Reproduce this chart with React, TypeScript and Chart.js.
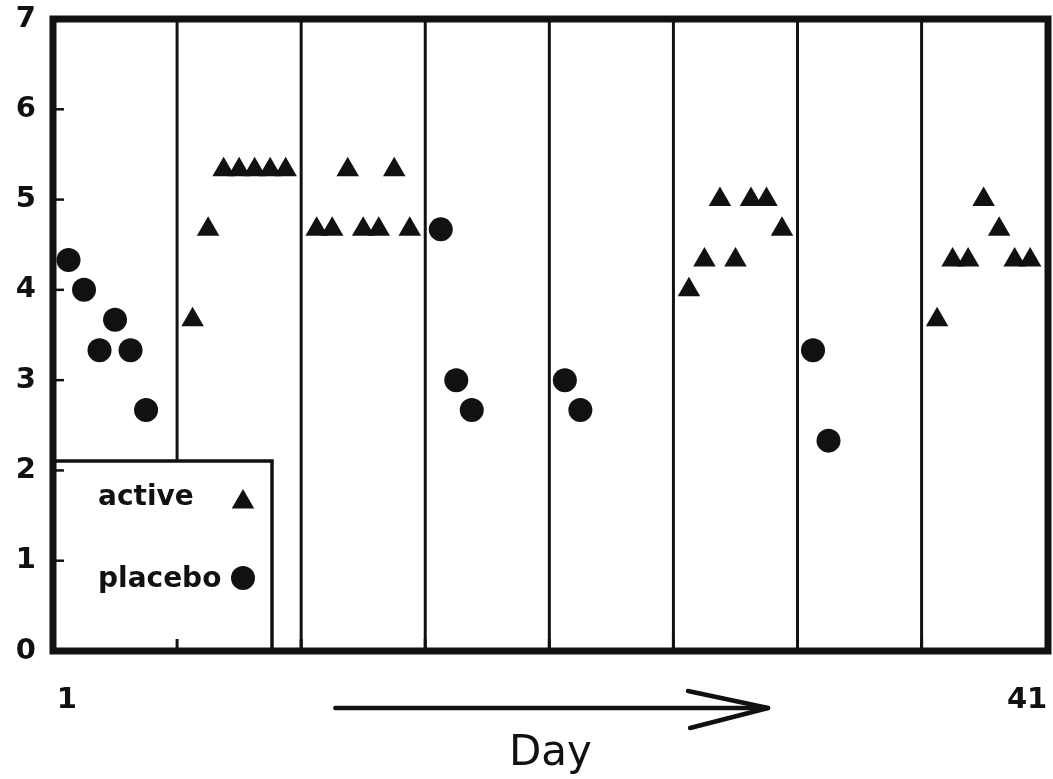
import React, { useEffect, useRef } from 'react';
import { Chart, registerables } from 'chart.js';

Chart.register(...registerables);

// x positions are measurement slots (8 slots per treatment period)
const activeSlots = [9, 10, 11, 12, 13, 14, 15, 17, 18, 19, 20, 21, 22, 23, 41, 42, 43, 44, 45, 46, 47, 57, 58, 59, 60, 61, 62, 63];
const activeValues = [3.67, 4.67, 5.33, 5.33, 5.33, 5.33, 5.33, 4.67, 4.67, 5.33, 4.67, 4.67, 5.33, 4.67, 4.0, 4.33, 5.0, 4.33, 5.0, 5.0, 4.67, 3.67, 4.33, 4.33, 5.0, 4.67, 4.33, 4.33];
const placeboSlots = [1, 2, 3, 4, 5, 6, 25, 26, 27, 33, 34, 49, 50];
const placeboValues = [4.33, 4.0, 3.33, 3.67, 3.33, 2.67, 4.67, 3.0, 2.67, 3.0, 2.67, 3.33, 2.33];
const periodBoundaries = [8, 16, 24, 32, 40, 48, 56];
const dayTickSlots = [0.9, 62.8];
const dayTickLabels = ['1', '41'];
const legendLabels = ['active', 'placebo'];
const xAxisTitle = 'Day';
const arrowFromSlot = 18.2;
const arrowToSlot = 46.1;

const FONT = "'DejaVu Sans', sans-serif";
const INK = '#111';

export default function App() {
  const ref = useRef<HTMLCanvasElement>(null);

  useEffect(() => {
    const canvas = ref.current;
    if (!canvas) return;

    const decor = {
      id: 'decor',
      beforeDatasetsDraw(chart: any) {
        const { ctx, chartArea: a, scales } = chart;
        ctx.save();
        ctx.strokeStyle = INK;
        ctx.lineWidth = 3;
        for (const b of periodBoundaries) {
          const x = scales.x.getPixelForValue(b);
          ctx.beginPath();
          ctx.moveTo(x, a.top);
          ctx.lineTo(x, a.bottom);
          ctx.stroke();
        }
        ctx.restore();
      },
      afterDatasetsDraw(chart: any) {
        const { ctx, chartArea: a, scales } = chart;
        const xs = scales.x;
        const ys = scales.y;
        ctx.save();
        // legend box
        const lx = a.left, ly = a.bottom - 190, lw = 219, lh = 190;
        ctx.fillStyle = '#fff';
        ctx.fillRect(lx, ly, lw, lh);
        ctx.strokeStyle = INK;
        ctx.lineWidth = 3.5;
        ctx.strokeRect(lx, ly, lw, lh);
        ctx.fillStyle = INK;
        ctx.font = `bold 28px ${FONT}`;
        ctx.textAlign = 'left';
        ctx.textBaseline = 'alphabetic';
        ctx.fillText(legendLabels[0], lx + 45, a.bottom - 146);
        ctx.fillText(legendLabels[1], lx + 45, a.bottom - 64);
        // legend markers
        const mx = lx + 190;
        const r = 13;
        const ty = a.bottom - 149;
        ctx.beginPath();
        ctx.moveTo(mx, ty - r);
        ctx.lineTo(mx + r * Math.sin(2 * Math.PI / 3), ty + r * 0.5);
        ctx.lineTo(mx - r * Math.sin(2 * Math.PI / 3), ty + r * 0.5);
        ctx.closePath();
        ctx.fill();
        ctx.beginPath();
        ctx.arc(mx, a.bottom - 73, 12, 0, Math.PI * 2);
        ctx.fill();
        // day tick labels under the axis
        ctx.font = `bold 29px ${FONT}`;
        ctx.textAlign = 'center';
        ctx.textBaseline = 'middle';
        dayTickSlots.forEach((s, i) => {
          ctx.fillText(dayTickLabels[i], xs.getPixelForValue(s), a.bottom + 49);
        });
        // inward ticks on y axis
        ctx.lineWidth = 2.5;
        for (let v = 1; v <= 6; v++) {
          const y = ys.getPixelForValue(v);
          ctx.beginPath();
          ctx.moveTo(a.left, y);
          ctx.lineTo(a.left + 11, y);
          ctx.stroke();
        }
        // inward ticks on x axis at period boundaries
        ctx.lineWidth = 3;
        for (const b of periodBoundaries) {
          const x = xs.getPixelForValue(b);
          ctx.beginPath();
          ctx.moveTo(x, a.bottom);
          ctx.lineTo(x, a.bottom - 12);
          ctx.stroke();
        }
        // frame
        ctx.lineWidth = 7;
        ctx.strokeRect(a.left, a.top, a.right - a.left, a.bottom - a.top);
        // arrow below axis
        const ax0 = xs.getPixelForValue(arrowFromSlot);
        const ax1 = xs.getPixelForValue(arrowToSlot);
        const ay = a.bottom + 57;
        ctx.lineWidth = 4.5;
        ctx.lineCap = 'round';
        ctx.lineJoin = 'round';
        ctx.beginPath();
        ctx.moveTo(ax0, ay);
        ctx.lineTo(ax1, ay);
        ctx.stroke();
        ctx.beginPath();
        ctx.moveTo(ax1 - 80, ay - 17);
        ctx.lineTo(ax1, ay);
        ctx.lineTo(ax1 - 78, ay + 20);
        ctx.stroke();
        ctx.restore();
      },
    };

    const chart = new Chart(canvas, {
      type: 'scatter',
      data: {
        datasets: [
          {
            label: legendLabels[0],
            data: activeSlots.map((x, i) => ({ x, y: activeValues[i] })),
            pointStyle: 'triangle',
            pointRadius: 13,
            pointBackgroundColor: INK,
            pointBorderWidth: 0,
            showLine: false,
          },
          {
            label: legendLabels[1],
            data: placeboSlots.map((x, i) => ({ x, y: placeboValues[i] })),
            pointStyle: 'circle',
            pointRadius: 12,
            pointBackgroundColor: INK,
            pointBorderWidth: 0,
            showLine: false,
          },
        ],
      },
      options: {
        responsive: false,
        animation: false,
        layout: { autoPadding: false, padding: { top: 19, right: 5, left: 0, bottom: 0 } },
        plugins: { legend: { display: false }, tooltip: { enabled: false } },
        scales: {
          x: {
            type: 'linear',
            min: 0,
            max: 64.15,
            grid: { display: false, drawTicks: false },
            border: { display: false },
            afterFit: (scale: any) => {
              scale.height = 128;
              scale.paddingLeft = 0;
              scale.paddingRight = 0;
            },
            ticks: { display: false },
            title: {
              display: true,
              text: xAxisTitle,
              color: INK,
              font: { family: FONT, size: 42 },
              padding: { top: 0, bottom: 0 },
            },
          },
          y: {
            min: 0,
            max: 7,
            grid: { display: false, drawTicks: false },
            border: { display: false },
            afterFit: (scale: any) => {
              scale.width = 53;
              scale.paddingTop = 0;
              scale.paddingBottom = 0;
            },
            ticks: {
              stepSize: 1,
              padding: 17,
              color: INK,
              font: { family: FONT, size: 29, weight: 'bold' },
            },
          },
        },
      },
      plugins: [decor],
    });

    return () => chart.destroy();
  }, []);

  return (
    <div style={{ position: 'fixed', left: 0, top: 0, width: 1053, height: 779, background: '#fff' }}>
      <canvas ref={ref} width={1053} height={779} style={{ display: 'block' }} />
    </div>
  );
}
